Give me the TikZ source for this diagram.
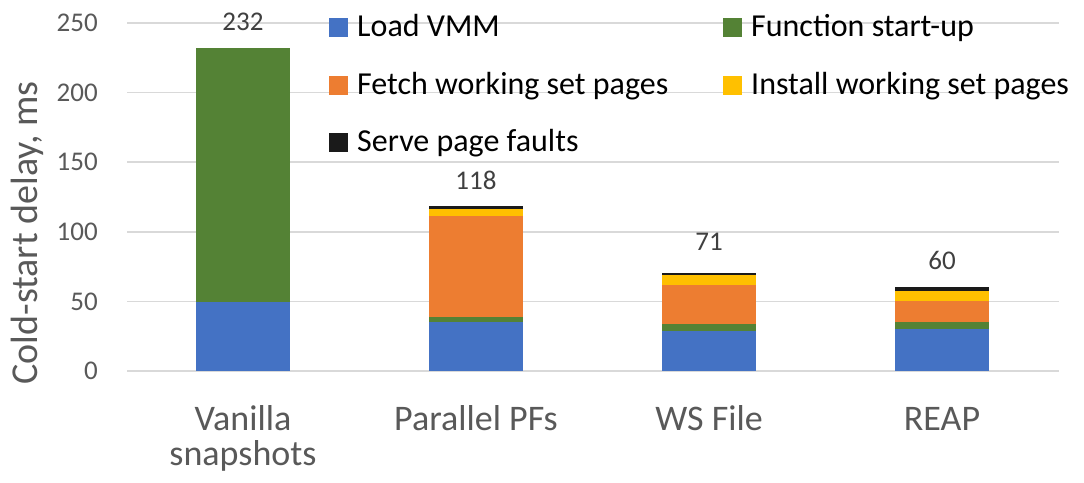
\documentclass[tikz,border=0pt]{standalone}
\usepackage{fontspec}
\setmainfont{Carlito}
\definecolor{cblue}{HTML}{4472C4}
\definecolor{cgreen}{HTML}{548235}
\definecolor{corange}{HTML}{ED7D31}
\definecolor{cyellow}{HTML}{FFC000}
\definecolor{cblack}{HTML}{1A1A1A}
\definecolor{gridc}{HTML}{D9D9D9}
\definecolor{axtext}{HTML}{595959}
\definecolor{valtext}{HTML}{404040}
\begin{document}
\begin{tikzpicture}[x=1pt,y=1pt,
  grid/.style={draw=gridc,line width=1.5pt},
  ticklab/.style={anchor=east,inner sep=0pt,text=axtext,font=\fontsize{27}{27}\selectfont},
  catlab/.style={anchor=base,inner sep=0pt,align=center,text=axtext,font=\fontsize{36}{35}\selectfont},
  vallab/.style={inner sep=0pt,text=valtext,font=\fontsize{27}{27}\selectfont},
  leglab/.style={anchor=base west,inner sep=0pt,text=black,font=\fontsize{32}{32}\selectfont},
  legbox/.style={minimum size=19pt,inner sep=0pt,anchor=south west}]
\useasboundingbox (0,0) rectangle (1084,482);
\fill[white] (0,0) rectangle (1084,482);
% gridlines and ticks
\foreach \v in {0,50,100,150,200,250}{
  \draw[grid] (127,{111+1.392*\v}) -- (1059,{111+1.392*\v});
  \node[ticklab] (t\v) at (98,{111+1.392*\v}) {\v};
}
% axis title
\node[rotate=90,anchor=base,inner sep=0pt,text=axtext,font=\fontsize{38}{38}\selectfont] (ytitle) at (37,249) {Cold-start delay, ms};
% bars: \seg{x left}{from}{to}{color}
\newcommand\seg[4]{\fill[#4] (#1,{111+1.392*#2}) rectangle ({#1+94},{111+1.392*#3});}
% Vanilla snapshots
\seg{196}{0}{49.8}{cblue}
\seg{196}{49.8}{232}{cgreen}
% Parallel PFs
\seg{429}{0}{35}{cblue}
\seg{429}{35}{39}{cgreen}
\seg{429}{39}{111.7}{corange}
\seg{429}{111.7}{116.7}{cyellow}
\seg{429}{116.7}{118.4}{cblack}
% WS File
\seg{662}{0}{28.7}{cblue}
\seg{662}{28.7}{33.8}{cgreen}
\seg{662}{33.8}{62}{corange}
\seg{662}{62}{69}{cyellow}
\seg{662}{69}{70.6}{cblack}
% REAP
\seg{895}{0}{30}{cblue}
\seg{895}{30}{35}{cgreen}
\seg{895}{35}{50.5}{corange}
\seg{895}{50.5}{57.3}{cyellow}
\seg{895}{57.3}{60}{cblack}
% value labels
\node[vallab] (v1) at (243,460) {232};
\node[vallab] (v2) at (476,302) {118};
\node[vallab] (v3) at (709,240) {71};
\node[vallab] (v4) at (942,222) {60};
% category labels
\node[catlab] (c1) at (243,17) {Vanilla\\snapshots};
\node[catlab] (c2) at (476,52) {Parallel PFs};
\node[catlab] (c3) at (709,52) {WS File};
\node[catlab] (c4) at (942,52) {REAP};
% legend
\node[legbox,fill=cblue] (l1) at (329,445) {};
\node[leglab] (l1t) at (357,445) {Load VMM};
\node[legbox,fill=cgreen] (l2) at (723,445) {};
\node[leglab] (l2t) at (751,445) {Function start-up};
\node[legbox,fill=corange] (l3) at (329,387) {};
\node[leglab] (l3t) at (357,387) {Fetch working set pages};
\node[legbox,fill=cyellow] (l4) at (723,387) {};
\node[leglab] (l4t) at (751,387) {Install working set pages};
\node[legbox,fill=cblack] (l5) at (329,330) {};
\node[leglab] (l5t) at (357,330) {Serve page faults};
\end{tikzpicture}
\end{document}
